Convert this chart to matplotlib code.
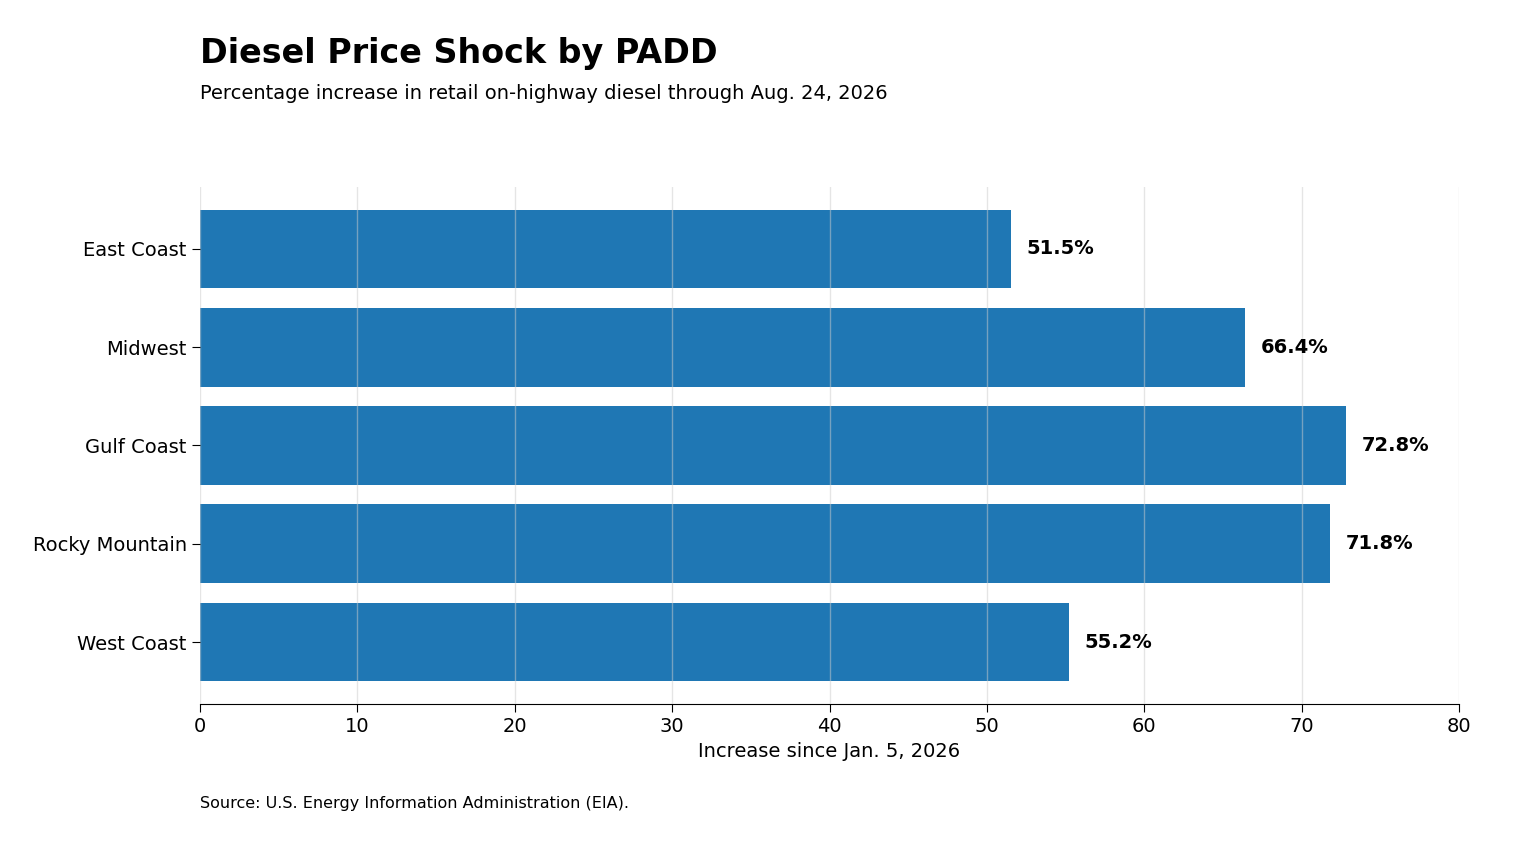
import matplotlib.pyplot as plt

regions = ['East Coast', 'Midwest', 'Gulf Coast', 'Rocky Mountain', 'West Coast']
increase = [51.5, 66.4, 72.8, 71.8, 55.2]

fig = plt.figure(figsize=(15.36, 8.48), dpi=100)
ax = fig.add_axes([0.1302, 0.1698, 0.8197, 0.6097])

ax.barh(regions, increase, height=0.8, color='#1f77b4')
ax.set_ylim(4.63, -0.63)
ax.set_xlim(0, 80)
ax.xaxis.grid(True, color='#cccccc', alpha=0.5, linewidth=1)
ax.set_axisbelow(False)
for s in ['top', 'right', 'left']:
    ax.spines[s].set_visible(False)
ax.tick_params(axis='both', labelsize=14, length=6)
ax.set_xlabel('Increase since Jan. 5, 2026', fontsize=14)

for i, v in enumerate(increase):
    ax.text(v + 1, i, f'{v:.1f}%', va='center', ha='left', fontsize=14, fontweight='bold')

fig.text(0.1302, 0.937, 'Diesel Price Shock by PADD', fontsize=24, fontweight='bold', va='center')
fig.text(0.1302, 0.890, 'Percentage increase in retail on-highway diesel through Aug. 24, 2026', fontsize=14, va='center')
fig.text(0.1302, 0.052, 'Source: U.S. Energy Information Administration (EIA).', fontsize=11.5, va='center')

fig.savefig('out.png', dpi=100)
